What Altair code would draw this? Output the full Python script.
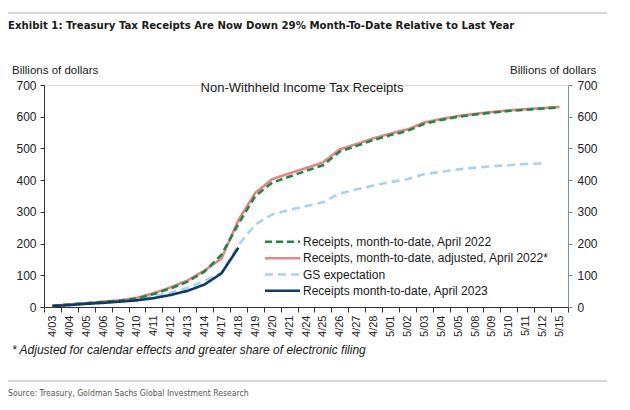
import altair as alt
import pandas as pd

# ---------------- data ----------------
dates = ["4/03", "4/04", "4/05", "4/06", "4/07", "4/10", "4/11", "4/12", "4/13", "4/14",
         "4/17", "4/18", "4/19", "4/20", "4/21", "4/24", "4/25", "4/26", "4/27", "4/28",
         "5/01", "5/02", "5/03", "5/04", "5/05", "5/08", "5/09", "5/10", "5/11", "5/12", "5/15"]

mtd_2022 = [4, 8, 12, 16, 20, 27, 41, 59, 80, 112, 165, 262, 350, 392, 411, 429, 447, 490,
            508, 527, 542, 555, 578, 590, 600, 607, 613, 618, 622, 626, 629]
adj_2022 = [4, 8, 12, 17, 21, 29, 44, 62, 84, 115, 153, 274, 360, 403, 421, 438, 456, 497,
            514, 532, 547, 560, 582, 593, 602, 609, 615, 620, 624, 627, 631]
gs_exp = [3, 7, 11, 15, 19, 25, 34, 45, 60, 83, 108, 195, 260, 292, 306, 318, 330, 358,
          371, 383, 394, 403, 419, 426, 434, 439, 444, 447, 451, 453]
mtd_2023 = [3, 6, 10, 13, 17, 21, 28, 38, 51, 71, 106, 187]

series_names = ["Receipts, month-to-date, April 2022",
                "Receipts, month-to-date, adjusted, April 2022*",
                "GS expectation",
                "Receipts month-to-date, April 2023"]
series_values = [mtd_2022, adj_2022, gs_exp, mtd_2023]
series_colors = ["#1b8a48", "#e8847e", "#a9d1f0", "#0e3a68"]
series_dash = [[7, 4], [1, 0], [8, 5], [1, 0]]
draw_order = [2, 1, 0, 3]

y_ticks = [0, 100, 200, 300, 400, 500, 600, 700]

title_text = "Exhibit 1: Treasury Tax Receipts Are Now Down 29% Month-To-Date Relative to Last Year"
inner_title = "Non-Withheld Income Tax Receipts"
unit_label = "Billions of dollars"
footnote = "* Adjusted for calendar effects and greater share of electronic filing"
source = "Source: Treasury, Goldman Sachs Global Investment Research"

FONT = "Liberation Sans"
NARROW = "DejaVu Sans Condensed"

W, H = 524, 222

def frame(vals):
    return pd.DataFrame({"date": dates[:len(vals)], "value": vals})

x_enc = alt.X("date:O", sort=dates,
              scale=alt.Scale(type="band", paddingInner=0, paddingOuter=0),
              axis=alt.Axis(title=None, labelAngle=-90, tickBand="extent", tickSize=5,
                            domainColor="#333333", tickColor="#333333", labelColor="#222222",
                            labelFontSize=11, labelPadding=3, labelFont=FONT, grid=False))

y_scale = alt.Scale(domain=[0, 700], nice=False, zero=True)
y_left = alt.Y("value:Q", scale=y_scale,
               axis=alt.Axis(title=None, values=y_ticks, grid=False, orient="left", tickSize=4,
                             domainColor="#333333", tickColor="#333333", labelColor="#222222",
                             labelFontSize=12, labelPadding=4, labelFont=FONT))
y_right = alt.Y("value:Q", scale=y_scale,
                axis=alt.Axis(title=None, values=y_ticks, grid=False, orient="right", tickSize=4,
                              domainColor="#7093b3", tickColor="#7093b3", labelColor="#222222",
                              labelFontSize=12, labelPadding=5, labelFont=FONT))

lines = []
for i in draw_order:
    lines.append(
        alt.Chart(frame(series_values[i])).mark_line(
            color=series_colors[i], strokeWidth=2.6, strokeDash=series_dash[i])
        .encode(x=x_enc, y=y_left)
    )
lines_layer = alt.layer(*lines)

right_axis = alt.Chart(frame(adj_2022)).mark_line(opacity=0).encode(x=x_enc, y=y_right)


def txt(t, x, y, **kw):
    return alt.Chart(pd.DataFrame({"t": [t]})).mark_text(**kw).encode(
        x=alt.value(x), y=alt.value(y), text="t:N")


def hrule(x1, x2, y, color, width=1, dash=None):
    kw = {"color": color, "strokeWidth": width}
    if dash is not None:
        kw["strokeDash"] = dash
    return alt.Chart(pd.DataFrame({"a": [0]})).mark_rule(**kw).encode(
        x=alt.value(x1), x2=alt.value(x2), y=alt.value(y))


decor = [
    hrule(-36, 563, -72, "#c9c9c9", 1.5),
    txt(title_text, -36, -56, font=NARROW, fontSize=11.3, fontWeight="bold",
        align="left", baseline="alphabetic", color="#1a1a1a"),
    txt(unit_label, -32, -11, font=FONT, fontSize=11.5, align="left",
        baseline="alphabetic", color="#1a1a1a"),
    txt(unit_label, 466, -11, font=FONT, fontSize=11.5, align="left",
        baseline="alphabetic", color="#1a1a1a"),
    txt(inner_title, 258, 7, font=FONT, fontSize=13, align="center",
        baseline="alphabetic", color="#1a1a1a"),
    txt(footnote, -32, 269, font=FONT, fontSize=12, fontStyle="italic", align="left",
        baseline="alphabetic", color="#1a1a1a"),
    hrule(-36, 563, 296, "#c9c9c9", 1.5),
    txt(source, -36, 311, font=NARROW, fontSize=8.6, align="left",
        baseline="alphabetic", color="#555555"),
]

legend_rows = [156.7, 173.3, 189.5, 205.7]
for i in range(4):
    decor.append(hrule(221, 256, legend_rows[i], series_colors[i], 2.6, series_dash[i]))
    decor.append(txt(series_names[i], 259, legend_rows[i], font=FONT, fontSize=12,
                     align="left", baseline="middle", color="#1a1a1a"))

chart = alt.layer(lines_layer, right_axis, *decor).resolve_scale(y="independent").properties(
    width=W, height=H,
    autosize=alt.AutoSizeParams(type="none"),
    padding={"left": 36, "top": 77, "right": 46, "bottom": 94},
).configure_view(stroke=None).configure(font=FONT)

chart.save("out.html", embed_options={"renderer": "svg", "actions": False})
